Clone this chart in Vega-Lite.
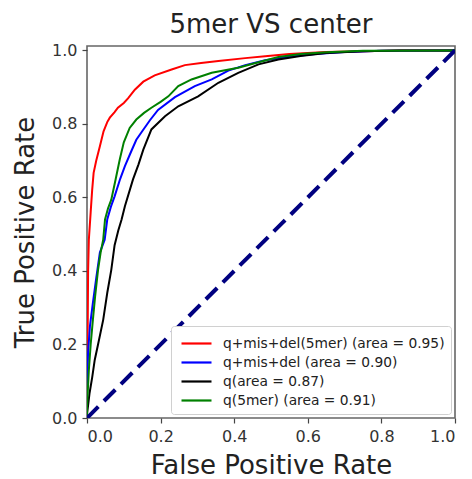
{
  "$schema": "https://vega.github.io/schema/vega-lite/v6.json",
  "autosize": {"type": "none"},
  "padding": {"left": 87, "top": 46, "right": 17, "bottom": 61},
  "width": 368,
  "height": 372,
  "background": "white",
  "title": {
    "text": "5mer VS center",
    "fontSize": 26,
    "font": "DejaVu Sans",
    "fontWeight": "normal",
    "color": "#222",
    "offset": 4
  },
  "config": {
    "view": {"stroke": "#666", "strokeWidth": 1.6},
    "font": "DejaVu Sans",
    "axis": {
      "grid": false,
      "domain": false,
      "tickColor": "#444",
      "tickSize": 5,
      "tickWidth": 1.2,
      "labelFont": "DejaVu Sans",
      "labelFontSize": 16,
      "labelColor": "#333",
      "labelPadding": 5,
      "titleFont": "DejaVu Sans",
      "titleFontSize": 26,
      "titleFontWeight": "normal",
      "titleColor": "#222"
    }
  },
  "datasets": {
    "roc": [
      {"model": "q+mis+del(5mer) (area = 0.95)", "fpr": 0, "tpr": 0},
      {"model": "q+mis+del(5mer) (area = 0.95)", "fpr": 0, "tpr": 0.12},
      {"model": "q+mis+del(5mer) (area = 0.95)", "fpr": 0.002, "tpr": 0.26},
      {"model": "q+mis+del(5mer) (area = 0.95)", "fpr": 0.003, "tpr": 0.4},
      {"model": "q+mis+del(5mer) (area = 0.95)", "fpr": 0.005, "tpr": 0.485},
      {"model": "q+mis+del(5mer) (area = 0.95)", "fpr": 0.008, "tpr": 0.53},
      {"model": "q+mis+del(5mer) (area = 0.95)", "fpr": 0.01, "tpr": 0.56},
      {"model": "q+mis+del(5mer) (area = 0.95)", "fpr": 0.014, "tpr": 0.62},
      {"model": "q+mis+del(5mer) (area = 0.95)", "fpr": 0.018, "tpr": 0.667},
      {"model": "q+mis+del(5mer) (area = 0.95)", "fpr": 0.025, "tpr": 0.7},
      {"model": "q+mis+del(5mer) (area = 0.95)", "fpr": 0.035, "tpr": 0.739},
      {"model": "q+mis+del(5mer) (area = 0.95)", "fpr": 0.045, "tpr": 0.78},
      {"model": "q+mis+del(5mer) (area = 0.95)", "fpr": 0.055, "tpr": 0.805},
      {"model": "q+mis+del(5mer) (area = 0.95)", "fpr": 0.062, "tpr": 0.817},
      {"model": "q+mis+del(5mer) (area = 0.95)", "fpr": 0.075, "tpr": 0.832},
      {"model": "q+mis+del(5mer) (area = 0.95)", "fpr": 0.084, "tpr": 0.844},
      {"model": "q+mis+del(5mer) (area = 0.95)", "fpr": 0.1, "tpr": 0.857},
      {"model": "q+mis+del(5mer) (area = 0.95)", "fpr": 0.112, "tpr": 0.87},
      {"model": "q+mis+del(5mer) (area = 0.95)", "fpr": 0.13, "tpr": 0.893},
      {"model": "q+mis+del(5mer) (area = 0.95)", "fpr": 0.153, "tpr": 0.915},
      {"model": "q+mis+del(5mer) (area = 0.95)", "fpr": 0.184, "tpr": 0.932},
      {"model": "q+mis+del(5mer) (area = 0.95)", "fpr": 0.23, "tpr": 0.948},
      {"model": "q+mis+del(5mer) (area = 0.95)", "fpr": 0.266, "tpr": 0.96},
      {"model": "q+mis+del(5mer) (area = 0.95)", "fpr": 0.31, "tpr": 0.966},
      {"model": "q+mis+del(5mer) (area = 0.95)", "fpr": 0.357, "tpr": 0.971},
      {"model": "q+mis+del(5mer) (area = 0.95)", "fpr": 0.43, "tpr": 0.979},
      {"model": "q+mis+del(5mer) (area = 0.95)", "fpr": 0.484, "tpr": 0.984},
      {"model": "q+mis+del(5mer) (area = 0.95)", "fpr": 0.55, "tpr": 0.99},
      {"model": "q+mis+del(5mer) (area = 0.95)", "fpr": 0.65, "tpr": 0.996},
      {"model": "q+mis+del(5mer) (area = 0.95)", "fpr": 0.75, "tpr": 0.998},
      {"model": "q+mis+del(5mer) (area = 0.95)", "fpr": 0.85, "tpr": 1},
      {"model": "q+mis+del(5mer) (area = 0.95)", "fpr": 1, "tpr": 1},

      {"model": "q+mis+del (area = 0.90)", "fpr": 0, "tpr": 0},
      {"model": "q+mis+del (area = 0.90)", "fpr": 0, "tpr": 0.08},
      {"model": "q+mis+del (area = 0.90)", "fpr": 0.003, "tpr": 0.18},
      {"model": "q+mis+del (area = 0.90)", "fpr": 0.008, "tpr": 0.25},
      {"model": "q+mis+del (area = 0.90)", "fpr": 0.016, "tpr": 0.313},
      {"model": "q+mis+del (area = 0.90)", "fpr": 0.025, "tpr": 0.38},
      {"model": "q+mis+del (area = 0.90)", "fpr": 0.035, "tpr": 0.45},
      {"model": "q+mis+del (area = 0.90)", "fpr": 0.048, "tpr": 0.485},
      {"model": "q+mis+del (area = 0.90)", "fpr": 0.055, "tpr": 0.54},
      {"model": "q+mis+del (area = 0.90)", "fpr": 0.065, "tpr": 0.575},
      {"model": "q+mis+del (area = 0.90)", "fpr": 0.075, "tpr": 0.603},
      {"model": "q+mis+del (area = 0.90)", "fpr": 0.09, "tpr": 0.65},
      {"model": "q+mis+del (area = 0.90)", "fpr": 0.103, "tpr": 0.685},
      {"model": "q+mis+del (area = 0.90)", "fpr": 0.12, "tpr": 0.725},
      {"model": "q+mis+del (area = 0.90)", "fpr": 0.134, "tpr": 0.757},
      {"model": "q+mis+del (area = 0.90)", "fpr": 0.15, "tpr": 0.78},
      {"model": "q+mis+del (area = 0.90)", "fpr": 0.171, "tpr": 0.81},
      {"model": "q+mis+del (area = 0.90)", "fpr": 0.193, "tpr": 0.838},
      {"model": "q+mis+del (area = 0.90)", "fpr": 0.239, "tpr": 0.873},
      {"model": "q+mis+del (area = 0.90)", "fpr": 0.293, "tpr": 0.903},
      {"model": "q+mis+del (area = 0.90)", "fpr": 0.339, "tpr": 0.921},
      {"model": "q+mis+del (area = 0.90)", "fpr": 0.384, "tpr": 0.945},
      {"model": "q+mis+del (area = 0.90)", "fpr": 0.43, "tpr": 0.96},
      {"model": "q+mis+del (area = 0.90)", "fpr": 0.484, "tpr": 0.973},
      {"model": "q+mis+del (area = 0.90)", "fpr": 0.55, "tpr": 0.983},
      {"model": "q+mis+del (area = 0.90)", "fpr": 0.62, "tpr": 0.99},
      {"model": "q+mis+del (area = 0.90)", "fpr": 0.7, "tpr": 0.996},
      {"model": "q+mis+del (area = 0.90)", "fpr": 0.8, "tpr": 0.999},
      {"model": "q+mis+del (area = 0.90)", "fpr": 1, "tpr": 1},

      {"model": "q(area = 0.87)", "fpr": 0, "tpr": 0},
      {"model": "q(area = 0.87)", "fpr": 0, "tpr": 0.01},
      {"model": "q(area = 0.87)", "fpr": 0.007, "tpr": 0.068},
      {"model": "q(area = 0.87)", "fpr": 0.014, "tpr": 0.11},
      {"model": "q(area = 0.87)", "fpr": 0.021, "tpr": 0.158},
      {"model": "q(area = 0.87)", "fpr": 0.03, "tpr": 0.2},
      {"model": "q(area = 0.87)", "fpr": 0.044, "tpr": 0.267},
      {"model": "q(area = 0.87)", "fpr": 0.055, "tpr": 0.34},
      {"model": "q(area = 0.87)", "fpr": 0.066, "tpr": 0.403},
      {"model": "q(area = 0.87)", "fpr": 0.075, "tpr": 0.47},
      {"model": "q(area = 0.87)", "fpr": 0.085, "tpr": 0.51},
      {"model": "q(area = 0.87)", "fpr": 0.094, "tpr": 0.54},
      {"model": "q(area = 0.87)", "fpr": 0.103, "tpr": 0.576},
      {"model": "q(area = 0.87)", "fpr": 0.125, "tpr": 0.649},
      {"model": "q(area = 0.87)", "fpr": 0.14, "tpr": 0.69},
      {"model": "q(area = 0.87)", "fpr": 0.153, "tpr": 0.73},
      {"model": "q(area = 0.87)", "fpr": 0.175, "tpr": 0.785},
      {"model": "q(area = 0.87)", "fpr": 0.212, "tpr": 0.821},
      {"model": "q(area = 0.87)", "fpr": 0.248, "tpr": 0.848},
      {"model": "q(area = 0.87)", "fpr": 0.302, "tpr": 0.875},
      {"model": "q(area = 0.87)", "fpr": 0.357, "tpr": 0.912},
      {"model": "q(area = 0.87)", "fpr": 0.411, "tpr": 0.939},
      {"model": "q(area = 0.87)", "fpr": 0.466, "tpr": 0.962},
      {"model": "q(area = 0.87)", "fpr": 0.52, "tpr": 0.975},
      {"model": "q(area = 0.87)", "fpr": 0.58, "tpr": 0.985},
      {"model": "q(area = 0.87)", "fpr": 0.65, "tpr": 0.993},
      {"model": "q(area = 0.87)", "fpr": 0.75, "tpr": 0.998},
      {"model": "q(area = 0.87)", "fpr": 0.85, "tpr": 1},
      {"model": "q(area = 0.87)", "fpr": 1, "tpr": 1},

      {"model": "q(5mer) (area = 0.91)", "fpr": 0, "tpr": 0},
      {"model": "q(5mer) (area = 0.91)", "fpr": 0, "tpr": 0.03},
      {"model": "q(5mer) (area = 0.91)", "fpr": 0.005, "tpr": 0.13},
      {"model": "q(5mer) (area = 0.91)", "fpr": 0.01, "tpr": 0.2},
      {"model": "q(5mer) (area = 0.91)", "fpr": 0.016, "tpr": 0.267},
      {"model": "q(5mer) (area = 0.91)", "fpr": 0.022, "tpr": 0.33},
      {"model": "q(5mer) (area = 0.91)", "fpr": 0.03, "tpr": 0.403},
      {"model": "q(5mer) (area = 0.91)", "fpr": 0.037, "tpr": 0.45},
      {"model": "q(5mer) (area = 0.91)", "fpr": 0.044, "tpr": 0.485},
      {"model": "q(5mer) (area = 0.91)", "fpr": 0.049, "tpr": 0.54},
      {"model": "q(5mer) (area = 0.91)", "fpr": 0.057, "tpr": 0.57},
      {"model": "q(5mer) (area = 0.91)", "fpr": 0.066, "tpr": 0.594},
      {"model": "q(5mer) (area = 0.91)", "fpr": 0.078, "tpr": 0.65},
      {"model": "q(5mer) (area = 0.91)", "fpr": 0.089, "tpr": 0.703},
      {"model": "q(5mer) (area = 0.91)", "fpr": 0.1, "tpr": 0.75},
      {"model": "q(5mer) (area = 0.91)", "fpr": 0.116, "tpr": 0.789},
      {"model": "q(5mer) (area = 0.91)", "fpr": 0.134, "tpr": 0.812},
      {"model": "q(5mer) (area = 0.91)", "fpr": 0.155, "tpr": 0.83},
      {"model": "q(5mer) (area = 0.91)", "fpr": 0.175, "tpr": 0.844},
      {"model": "q(5mer) (area = 0.91)", "fpr": 0.2, "tpr": 0.86},
      {"model": "q(5mer) (area = 0.91)", "fpr": 0.221, "tpr": 0.875},
      {"model": "q(5mer) (area = 0.91)", "fpr": 0.248, "tpr": 0.903},
      {"model": "q(5mer) (area = 0.91)", "fpr": 0.284, "tpr": 0.921},
      {"model": "q(5mer) (area = 0.91)", "fpr": 0.339, "tpr": 0.939},
      {"model": "q(5mer) (area = 0.91)", "fpr": 0.411, "tpr": 0.953},
      {"model": "q(5mer) (area = 0.91)", "fpr": 0.466, "tpr": 0.968},
      {"model": "q(5mer) (area = 0.91)", "fpr": 0.52, "tpr": 0.982},
      {"model": "q(5mer) (area = 0.91)", "fpr": 0.58, "tpr": 0.99},
      {"model": "q(5mer) (area = 0.91)", "fpr": 0.65, "tpr": 0.995},
      {"model": "q(5mer) (area = 0.91)", "fpr": 0.75, "tpr": 0.999},
      {"model": "q(5mer) (area = 0.91)", "fpr": 1, "tpr": 1}
    ],
    "chance": [
      {"fpr": 0, "tpr": 0},
      {"fpr": 1, "tpr": 1}
    ]
  },
  "layer": [
    {
      "data": {"name": "roc"},
      "mark": {"type": "line", "strokeWidth": 2, "clip": true},
      "encoding": {
        "x": {
          "field": "fpr",
          "type": "quantitative",
          "scale": {"domain": [0, 1], "nice": false, "zero": false},
          "axis": {"title": "False Positive Rate", "values": [0, 0.2, 0.4, 0.6, 0.8, 1], "format": ".1f", "titlePadding": 8}
        },
        "y": {
          "field": "tpr",
          "type": "quantitative",
          "scale": {"domain": [0, 1.012], "nice": false, "zero": false},
          "axis": {"title": "True Positive Rate", "values": [0, 0.2, 0.4, 0.6, 0.8, 1], "format": ".1f", "titlePadding": 13}
        },
        "color": {
          "field": "model",
          "type": "nominal",
          "scale": {
            "domain": [
              "q+mis+del(5mer) (area = 0.95)",
              "q+mis+del (area = 0.90)",
              "q(area = 0.87)",
              "q(5mer) (area = 0.91)"
            ],
            "range": ["#ff0000", "#0000ff", "#000000", "#008000"]
          },
          "legend": {
            "title": null,
            "orient": "bottom-right",
            "offset": 4,
            "symbolType": "M-1.5,0H1.5",
            "symbolSize": 400,
            "symbolStrokeWidth": 2.2,
            "symbolOffset": 8,
            "labelFont": "DejaVu Sans",
            "labelFontSize": 13.8,
            "labelColor": "#222",
            "labelLimit": 400,
            "labelOffset": 15,
            "rowPadding": 0,
            "padding": 6,
            "strokeColor": "#d0d0d0",
            "fillColor": "white",
            "cornerRadius": 3
          }
        },
        "order": [{"field": "fpr"}, {"field": "tpr"}]
      }
    },
    {
      "data": {"name": "chance"},
      "mark": {"type": "line", "color": "#000080", "strokeWidth": 4, "strokeDash": [16, 8], "clip": true},
      "encoding": {
        "x": {"field": "fpr", "type": "quantitative"},
        "y": {"field": "tpr", "type": "quantitative"}
      }
    }
  ]
}
